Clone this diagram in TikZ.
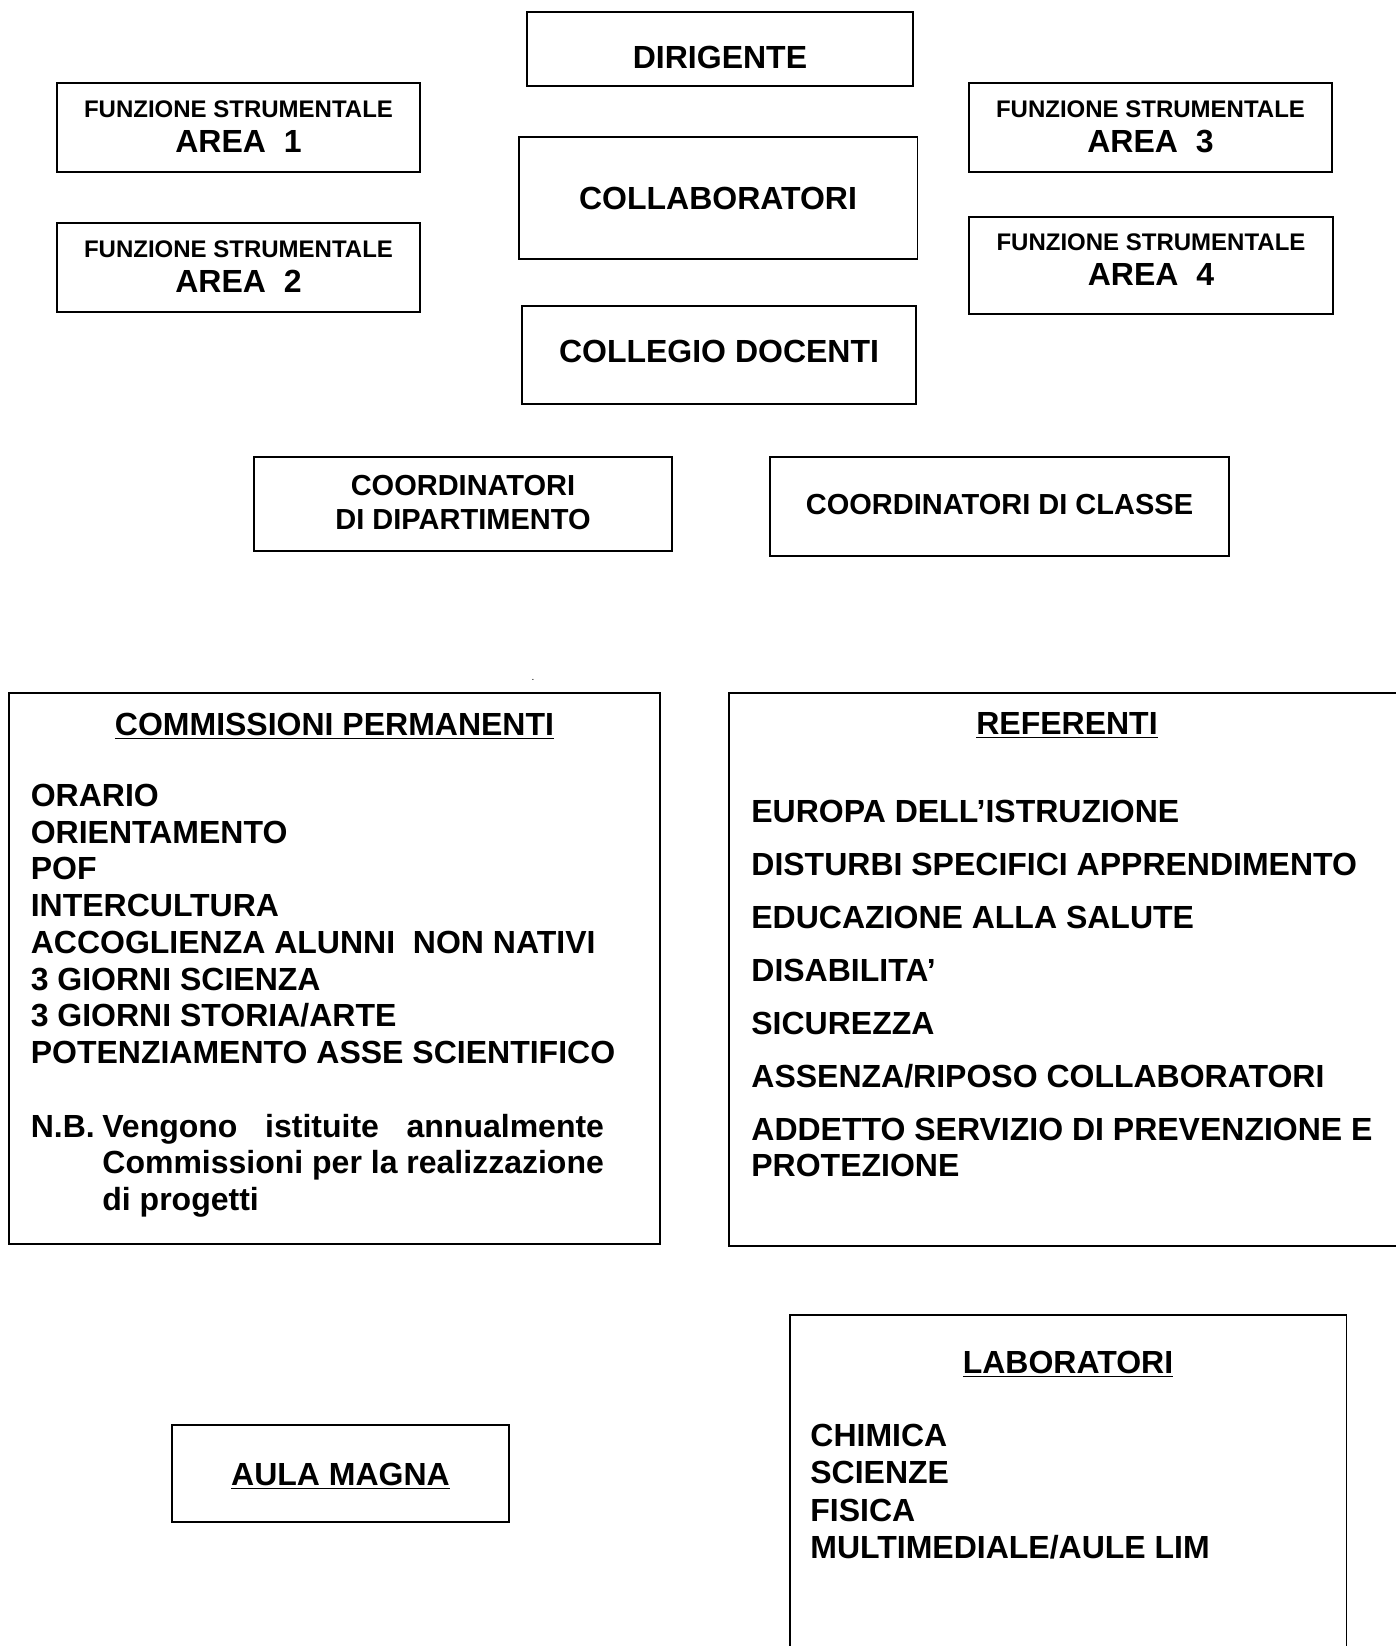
\documentclass[tikz,border=0pt]{standalone}
\usepackage{fontspec}
\setmainfont{Liberation Sans}
\usepackage{tikz}
\usetikzlibrary{fit}

\tikzset{
	box/.style={draw, line width=0.75pt, inner sep=0pt},
	lbl/.style={font=\fontsize{16}{18.4}\selectfont\bfseries, anchor=base, inner sep=0pt},
	sml/.style={font=\fontsize{12}{14}\selectfont\bfseries, anchor=base, inner sep=0pt},
	crd/.style={font=\fontsize{14.5}{17}\selectfont\bfseries, anchor=base, inner sep=0pt},
	itm/.style={lbl, anchor=base west},
}

\begin{document}
\begin{tikzpicture}[x=0.5pt,y=-0.5pt]
			\useasboundingbox (0,0) rectangle (1396,1646);
			\clip (0,0) rectangle (1396,1646);
			% vertice
			\node[box, fit={(527,12) (913,86)}] (dir) {};
			\node[lbl] (dirT) at (720,68.3) {DIRIGENTE};
			\node[box, fit={(519,137) (917.5,259)}] (coll) {};
			\node[lbl] (collT) at (718,209) {COLLABORATORI};
			\node[box, fit={(522,306) (916,404)}] (cdoc) {};
			\node[lbl] (cdocT) at (719,362.7) {COLLEGIO DOCENTI};
			% funzioni strumentali
			\node[box, fit={(57,83) (420,172)}] (fs1) {};
			\node[sml] (fs1a) at (238.5,117.3) {FUNZIONE STRUMENTALE};
			\node[lbl] (fs1b) at (238.5,152.3) {AREA\ \ 1};
			\node[box, fit={(57,223) (420,312)}] (fs2) {};
			\node[sml] (fs2a) at (238.5,257.3) {FUNZIONE STRUMENTALE};
			\node[lbl] (fs2b) at (238.5,292.3) {AREA\ \ 2};
			\node[box, fit={(969,83) (1332,172)}] (fs3) {};
			\node[sml] (fs3a) at (1150.5,117.3) {FUNZIONE STRUMENTALE};
			\node[lbl] (fs3b) at (1150.5,152.3) {AREA\ \ 3};
			\node[box, fit={(969,217) (1333,314)}] (fs4) {};
			\node[sml] (fs4a) at (1151,250.7) {FUNZIONE STRUMENTALE};
			\node[lbl] (fs4b) at (1151,285.7) {AREA\ \ 4};
			% coordinatori
			\node[box, fit={(254,457) (672,551)}] (cdip) {};
			\node[crd] (cdipA) at (463,495) {COORDINATORI};
			\node[crd] (cdipB) at (463,529.3) {DI DIPARTIMENTO};
			\node[box, fit={(770,457) (1229,556)}] (ccla) {};
			\node[crd] (cclaT) at (999.5,514.3) {COORDINATORI DI CLASSE};
			\node[font=\tiny, anchor=base, inner sep=0pt] (dot) at (533,680) {.};
			% commissioni
			\node[box, fit={(9,693) (660,1244)}] (comm) {};
			\node[lbl] (commT) at (334.5,735.5) {\underline{COMMISSIONI PERMANENTI}};
			\foreach \t [count=\i from 0] in {ORARIO, ORIENTAMENTO, POF, INTERCULTURA, ACCOGLIENZA ALUNNI\ \ NON NATIVI, 3 GIORNI SCIENZA, 3 GIORNI STORIA/ARTE, POTENZIAMENTO ASSE SCIENTIFICO}
				\node[itm] (cm\i) at (30.4,806.5+36.7*\i) {\t};
			\node[itm] (nb) at (30.4,1137) {N.B.};
			\node[itm] (nb1) at (102,1137) {\hbox to 250.8pt{Vengono\hfill istituite\hfill annualmente}};
			\node[itm] (nb2) at (102,1173.7) {Commissioni per la realizzazione};
			\node[itm] (nb3) at (102,1210.4) {di progetti};
			% referenti
			\node[box, fit={(729,693) (1405,1246)}] (refe) {};
			\node[lbl] (refeT) at (1067,734.8) {\underline{REFERENTI}};
			\foreach \t [count=\i from 0] in {EUROPA DELL’ISTRUZIONE, DISTURBI SPECIFICI APPRENDIMENTO, EDUCAZIONE ALLA SALUTE, DISABILITA’, SICUREZZA, ASSENZA/RIPOSO COLLABORATORI, ADDETTO SERVIZIO DI PREVENZIONE E}
				\node[itm] (rf\i) at (751,822.6+52.9*\i) {\t};
			\node[itm] (rf7) at (751,1176.5) {PROTEZIONE};
			% aula e laboratori
			\node[box, fit={(172,1425) (509,1522)}] (aula) {};
			\node[lbl] (aulaT) at (340.5,1485) {\underline{AULA MAGNA}};
			\node[box, fit={(790,1315) (1346.5,1680)}] (labo) {};
			\node[lbl] (laboT) at (1068,1373) {\underline{LABORATORI}};
			\foreach \t [count=\i from 0] in {CHIMICA, SCIENZE, FISICA, MULTIMEDIALE/AULE LIM}
				\node[itm] (lb\i) at (810,1446.7+37.2*\i) {\t};
		\end{tikzpicture}
\end{document}
